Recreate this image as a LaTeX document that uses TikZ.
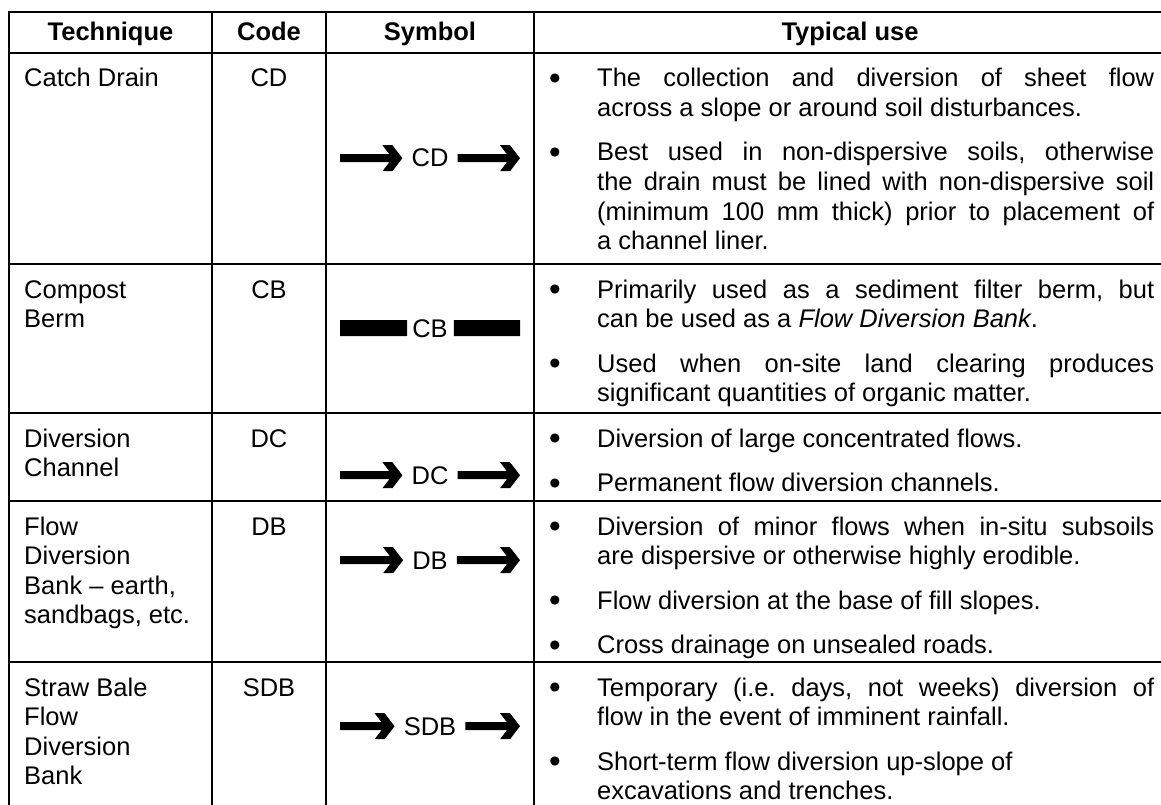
\documentclass[tikz,border=0pt]{standalone}
\usepackage{fontspec}
\setmainfont{Liberation Sans}
\usetikzlibrary{calc}
\frenchspacing
\newcommand{\bodyfont}{\fontsize{25.5}{29.5}\selectfont}
\newcommand{\jl}[1]{\makebox[557pt][s]{#1}}
\newcommand{\bigbullet}{\raisebox{-2.6pt}{\scalebox{1.3}{\textbullet}}}
% arrow polygon: start x, tip x, centre y (canvas dimensions)
\newcommand{\arrowpoly}[3]{(#1,#3-4pt) -- (#2-13.08pt,#3-4pt) -- (#2-20pt,#3-13pt) -- (#2-10pt,#3-13pt) -- (#2,#3) -- (#2-10pt,#3+13pt) -- (#2-20pt,#3+13pt) -- (#2-13.08pt,#3+4pt) -- (#1,#3+4pt) -- cycle}
\tikzset{
  txt/.style={anchor=base west, inner sep=0pt, font=\bodyfont},
  ctr/.style={anchor=base, inner sep=0pt, font=\bodyfont},
  hdr/.style={anchor=base, inner sep=0pt, font=\bodyfont\bfseries},
  bul/.style={anchor=base, inner sep=0pt, font=\bodyfont},
  rule/.style={line width=2.4pt, line cap=rect},
  symfill/.style={fill=black},
}
\begin{document}
\begin{tikzpicture}[x=1pt,y=-1pt]
\fill[white] (0,0) rectangle (1161,805);
\useasboundingbox (0,0) rectangle (1161,805);
% grid
\foreach \yy in {12,53,264,413,501,662}{\draw[rule] (9,\yy) -- (1175,\yy);}
\foreach \xx in {9,212,326,534}{\draw[rule] (\xx,12) -- (\xx,820);}
% header
\node[hdr] (h1) at (110.5,41) {Technique};
\node[hdr] (h2) at (269,41) {Code};
\node[hdr] (h3) at (430,41) {Symbol};
\node[hdr] (h4) at (850,41) {Typical use};
% row 1
\node[txt] (t1) at (24,87) {Catch Drain};
\node[ctr] (c1) at (269,87) {CD};
\node[bul] (b11) at (555,87) {\bigbullet};
\node[txt] (u11) at (597,87) {\jl{The collection and diversion of sheet flow}};
\node[txt] (u12) at (597,116.5) {across a slope or around soil disturbances.};
\node[bul] (b12) at (555,161) {\bigbullet};
\node[txt] (u13) at (597,161) {\jl{Best used in non-dispersive soils, otherwise}};
\node[txt] (u14) at (597,190.5) {\jl{the drain must be lined with non-dispersive soil}};
\node[txt] (u15) at (597,220) {\jl{(minimum 100 mm thick) prior to placement of}};
\node[txt] (u16) at (597,249.5) {a channel liner.};
\node[ctr] (s1) at (430,167) {CD};
\path[symfill] let \p1=(s1.west), \p2=(s1.east) in \arrowpoly{340pt}{\x1-9pt}{\y1} \arrowpoly{\x2+9pt}{520pt}{\y1};
% row 2
\node[txt] (t2a) at (24,298) {Compost};
\node[txt] (t2b) at (24,327.5) {Berm};
\node[ctr] (c2) at (269,298) {CB};
\node[bul] (b21) at (555,298) {\bigbullet};
\node[txt] (u21) at (597,298) {\jl{Primarily used as a sediment filter berm, but}};
\node[txt] (u22) at (597,327.5) {can be used as a \textit{Flow Diversion Bank}.};
\node[bul] (b22) at (555,372) {\bigbullet};
\node[txt] (u23) at (597,372) {\jl{Used when on-site land clearing produces}};
\node[txt] (u24) at (597,401.5) {significant quantities of organic matter.};
\node[ctr] (s2) at (430,337) {CB};
\path[symfill] let \p1=(s2.west), \p2=(s2.east) in (340pt,\y1-8pt) rectangle (\x1-5pt,\y1+8pt) (\x2+6pt,\y1-8pt) rectangle (520pt,\y1+8pt);
% row 3
\node[txt] (t3a) at (24,447) {Diversion};
\node[txt] (t3b) at (24,476.5) {Channel};
\node[ctr] (c3) at (269,447) {DC};
\node[bul] (b31) at (555,447) {\bigbullet};
\node[txt] (u31) at (597,447) {Diversion of large concentrated flows.};
\node[bul] (b32) at (555,491.5) {\bigbullet};
\node[txt] (u32) at (597,491.5) {Permanent flow diversion channels.};
\node[ctr] (s3) at (430,484) {DC};
\path[symfill] let \p1=(s3.west), \p2=(s3.east) in \arrowpoly{340pt}{\x1-9pt}{\y1} \arrowpoly{\x2+9pt}{520pt}{\y1};
% row 4
\node[txt] (t4a) at (24,535) {Flow};
\node[txt] (t4b) at (24,564.5) {Diversion};
\node[txt] (t4c) at (24,594) {Bank -- earth,};
\node[txt] (t4d) at (24,623.5) {sandbags, etc.};
\node[ctr] (c4) at (269,535) {DB};
\node[bul] (b41) at (555,535) {\bigbullet};
\node[txt] (u41) at (597,535) {\jl{Diversion of minor flows when in-situ subsoils}};
\node[txt] (u42) at (597,564.5) {are dispersive or otherwise highly erodible.};
\node[bul] (b42) at (555,609) {\bigbullet};
\node[txt] (u43) at (597,609) {Flow diversion at the base of fill slopes.};
\node[bul] (b43) at (555,653.5) {\bigbullet};
\node[txt] (u44) at (597,653.5) {Cross drainage on unsealed roads.};
\node[ctr] (s4) at (430,569) {DB};
\path[symfill] let \p1=(s4.west), \p2=(s4.east) in \arrowpoly{340pt}{\x1-9pt}{\y1} \arrowpoly{\x2+9pt}{520pt}{\y1};
% row 5
\node[txt] (t5a) at (24,696) {Straw Bale};
\node[txt] (t5b) at (24,725.5) {Flow};
\node[txt] (t5c) at (24,755) {Diversion};
\node[txt] (t5d) at (24,784.5) {Bank};
\node[ctr] (c5) at (269,696) {SDB};
\node[bul] (b51) at (555,696) {\bigbullet};
\node[txt] (u51) at (597,696) {\jl{Temporary (i.e. days, not weeks) diversion of}};
\node[txt] (u52) at (597,725.5) {flow in the event of imminent rainfall.};
\node[bul] (b52) at (555,770) {\bigbullet};
\node[txt] (u53) at (597,770) {Short-term flow diversion up-slope of};
\node[txt] (u54) at (597,799.5) {excavations and trenches.};
\node[ctr] (s5) at (430,735) {SDB};
\path[symfill] let \p1=(s5.west), \p2=(s5.east) in \arrowpoly{340pt}{\x1-9pt}{\y1} \arrowpoly{\x2+9pt}{520pt}{\y1};
\end{tikzpicture}
\end{document}
